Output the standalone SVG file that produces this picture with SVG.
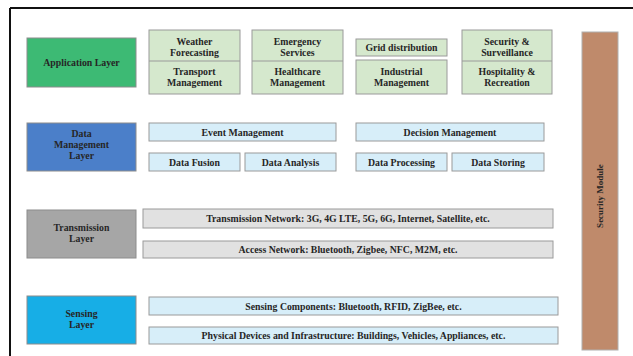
<svg xmlns="http://www.w3.org/2000/svg" width="633" height="356" viewBox="0 0 633 356">
<style>
text{font-family:"Liberation Serif","Times New Roman",serif;font-weight:bold;font-size:9.8px;fill:#262626;text-anchor:middle}
.layer{stroke:#8c8c8c;stroke-width:1}
.g{fill:#d5e8cd;stroke:#9a9a9a;stroke-width:1}
.b{fill:#d7eef9;stroke:#9a9a9a;stroke-width:1}
.gr{fill:#e1e1e1;stroke:#9a9a9a;stroke-width:1}
.div{stroke:#9a9a9a;stroke-width:1}
</style>
<rect width="633" height="356" fill="#ffffff"/>
<g id="frame">
<line x1="10" y1="8" x2="633" y2="8" stroke="#111" stroke-width="2"/>
<line x1="10" y1="8" x2="10" y2="356" stroke="#111" stroke-width="2"/>
</g>
<g id="application-layer">
<rect class="layer" x="27" y="38" width="109" height="49" fill="#3dba74"/>
<text x="81.5" y="66">Application Layer</text>
</g>
<g id="app-weather-transport">
<rect class="g" x="149" y="30" width="91" height="64"/>
<line class="div" x1="149" y1="61" x2="240" y2="61"/>
<text x="194.5" y="45">Weather</text>
<text x="194.5" y="56">Forecasting</text>
<text x="194.5" y="75">Transport</text>
<text x="194.5" y="86">Management</text>
</g>
<g id="app-emergency-healthcare">
<rect class="g" x="252" y="30" width="91" height="64"/>
<line class="div" x1="252" y1="61" x2="343" y2="61"/>
<text x="297.5" y="45">Emergency</text>
<text x="297.5" y="56">Services</text>
<text x="297.5" y="75">Healthcare</text>
<text x="297.5" y="86">Management</text>
</g>
<g id="app-grid">
<rect class="g" x="356" y="39" width="91" height="17"/>
<text x="401.5" y="51">Grid distribution</text>
</g>
<g id="app-industrial">
<rect class="g" x="356" y="60" width="91" height="34"/>
<text x="401.5" y="75">Industrial</text>
<text x="401.5" y="86">Management</text>
</g>
<g id="app-security-hospitality">
<rect class="g" x="462" y="30" width="90" height="64"/>
<line class="div" x1="462" y1="61" x2="552" y2="61"/>
<text x="507" y="45">Security &amp;</text>
<text x="507" y="56">Surveillance</text>
<text x="507" y="75">Hospitality &amp;</text>
<text x="507" y="86">Recreation</text>
</g>
<g id="data-management-layer">
<rect class="layer" x="27" y="123" width="109" height="48" fill="#4b7fc9"/>
<text x="81.5" y="137">Data</text>
<text x="81.5" y="148">Management</text>
<text x="81.5" y="159">Layer</text>
</g>
<g id="event-management">
<rect class="b" x="149" y="123" width="187" height="18"/>
<text x="242.5" y="135.5">Event Management</text>
</g>
<g id="decision-management">
<rect class="b" x="356" y="123" width="188" height="18"/>
<text x="450" y="135.5">Decision Management</text>
</g>
<g id="data-fusion">
<rect class="b" x="149" y="153" width="91" height="18"/>
<text x="194.5" y="165.5">Data Fusion</text>
</g>
<g id="data-analysis">
<rect class="b" x="245" y="153" width="91" height="18"/>
<text x="290.5" y="165.5">Data Analysis</text>
</g>
<g id="data-processing">
<rect class="b" x="356" y="153" width="91" height="18"/>
<text x="401.5" y="165.5">Data Processing</text>
</g>
<g id="data-storing">
<rect class="b" x="452" y="153" width="92" height="18"/>
<text x="498" y="165.5">Data Storing</text>
</g>
<g id="transmission-layer">
<rect class="layer" x="27" y="210" width="109" height="48" fill="#a6a6a6"/>
<text x="81.5" y="231">Transmission</text>
<text x="81.5" y="242">Layer</text>
</g>
<g id="transmission-network">
<rect class="gr" x="143" y="209" width="410" height="19"/>
<text x="348" y="222">Transmission Network: 3G, 4G LTE, 5G, 6G, Internet, Satellite, etc.</text>
</g>
<g id="access-network">
<rect class="gr" x="143" y="241" width="410" height="17"/>
<text x="348" y="253">Access Network: Bluetooth, Zigbee, NFC, M2M, etc.</text>
</g>
<g id="sensing-layer">
<rect class="layer" x="27" y="296" width="109" height="48" fill="#17aee6"/>
<text x="81.5" y="317">Sensing</text>
<text x="81.5" y="328">Layer</text>
</g>
<g id="sensing-components">
<rect class="b" x="149" y="297" width="409" height="18"/>
<text x="353.5" y="309.5">Sensing Components: Bluetooth, RFID, ZigBee, etc.</text>
</g>
<g id="physical-devices">
<rect class="b" x="149" y="327" width="409" height="17"/>
<text x="353.5" y="339">Physical Devices and Infrastructure: Buildings, Vehicles, Appliances, etc.</text>
</g>
<g id="security-module">
<rect x="582" y="32" width="36" height="318" fill="#bf8a6b" stroke="#b0b0b0" stroke-width="1"/>
<text x="0" y="0" transform="translate(603,196) rotate(-90)" style="font-size:9px">Security Module</text>
</g>
</svg>
